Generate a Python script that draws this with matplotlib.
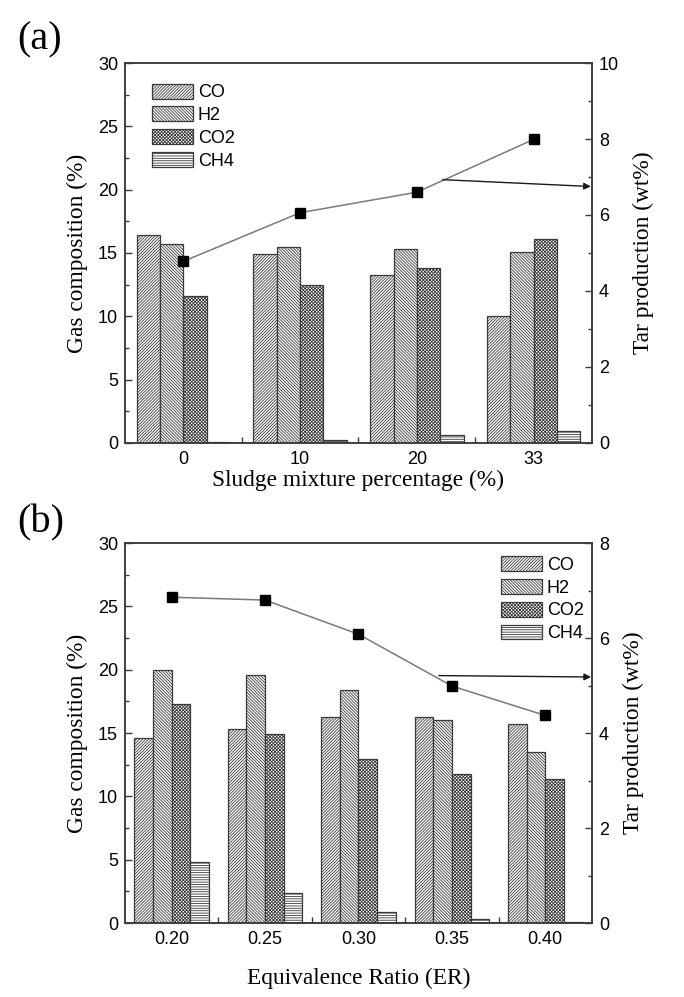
import matplotlib
matplotlib.use("Agg")
import matplotlib.pyplot as plt
import numpy as np
from matplotlib.ticker import MultipleLocator, FixedLocator

# ---- data ----
gases = ["CO", "H2", "CO2", "CH4"]

sludge_labels = ["0", "10", "20", "33"]
sludge_CO = [16.4, 14.9, 13.3, 10.0]
sludge_H2 = [15.7, 15.5, 15.3, 15.05]
sludge_CO2 = [11.6, 12.5, 13.8, 16.1]
sludge_CH4 = [0.1, 0.25, 0.6, 0.97]
sludge_tar = [4.78, 6.06, 6.6, 7.99]

er_labels = ["0.20", "0.25", "0.30", "0.35", "0.40"]
er_CO = [14.6, 15.3, 16.3, 16.3, 15.7]
er_H2 = [20.0, 19.6, 18.4, 16.05, 13.5]
er_CO2 = [17.3, 14.9, 12.95, 11.8, 11.4]
er_CH4 = [4.85, 2.35, 0.85, 0.3, 0.05]
er_tar = [6.86, 6.8, 6.08, 4.99, 4.37]

# ---- style ----
SANS = "Liberation Sans"
SERIF = "Liberation Serif"
plt.rcParams["font.family"] = SANS
plt.rcParams["hatch.linewidth"] = 0.6
plt.rcParams["hatch.color"] = "#5a5a5a"

hatches = ["/" * 11, "\\" * 11, "x" * 10, "-" * 7]
edge = "#3a3a3a"
bar_w = 0.2
tick_fs = 13
label_fs = 16.8


def panel(ax, labels, series, tar, tar_max, tar_major, legend_loc, legend_anchor,
          arrow_from, arrow_to, xlabel, xlabelpad):
    n = len(labels)
    x = np.arange(n)
    offsets = (np.arange(len(series)) - (len(series) - 1) / 2) * bar_w
    for vals, off, h, name in zip(series, offsets, hatches, gases):
        ax.bar(x + off, vals, bar_w, facecolor="white", edgecolor=edge,
               linewidth=0.9, hatch=h, label=name, zorder=2)
    ax.set_xlim(-0.5, n - 0.5)
    ax.set_ylim(0, 30)
    ax.yaxis.set_major_locator(MultipleLocator(5))
    ax.yaxis.set_minor_locator(MultipleLocator(2.5))
    ax.set_xticks(x)
    ax.set_xticklabels(labels)
    ax.xaxis.set_minor_locator(FixedLocator(x[:-1] + 0.5))
    ax.tick_params(axis="x", which="major", length=0, pad=6, labelsize=tick_fs)
    ax.tick_params(axis="x", which="minor", direction="in", length=4, width=1, color=edge)
    ax.tick_params(axis="y", which="both", direction="in", color=edge, labelsize=tick_fs, pad=5)
    ax.tick_params(axis="y", which="major", length=5, width=1)
    ax.tick_params(axis="y", which="minor", length=3, width=1)
    for s in ax.spines.values():
        s.set_color(edge)
        s.set_linewidth(1.1)
    ax.set_ylabel("Gas composition (%)", fontfamily=SERIF, fontsize=label_fs, labelpad=7)
    ax.set_xlabel(xlabel, fontfamily=SERIF, fontsize=label_fs, labelpad=xlabelpad)

    leg = ax.legend(loc=legend_loc, bbox_to_anchor=legend_anchor, frameon=False,
                    fontsize=13, handlelength=2.3, handleheight=0.9,
                    labelspacing=0.28, handletextpad=0.25, borderpad=0.2,
                    borderaxespad=0.0)
    for p in leg.get_patches():
        p.set_edgecolor(edge)

    ax2 = ax.twinx()
    ax2.plot(x, tar, color="#7a7a7a", lw=1.1, marker="s", markersize=6.5,
             markerfacecolor="black", markeredgecolor="black", zorder=3)
    ax2.set_ylim(0, tar_max)
    ax2.yaxis.set_major_locator(MultipleLocator(tar_major))
    ax2.yaxis.set_minor_locator(MultipleLocator(tar_major / 2))
    ax2.tick_params(axis="y", which="both", direction="in", color=edge, labelsize=tick_fs, pad=5)
    ax2.tick_params(axis="y", which="major", length=5, width=1)
    ax2.tick_params(axis="y", which="minor", length=3, width=1)
    for s in ax2.spines.values():
        s.set_color(edge)
        s.set_linewidth(1.1)
    ax2.set_ylabel("Tar production (wt%)", fontfamily=SERIF, fontsize=label_fs, labelpad=10)
    ax2.annotate("", xy=arrow_to, xytext=arrow_from,
                 arrowprops=dict(arrowstyle="-|>", color="#1a1a1a", lw=1.0,
                                 mutation_scale=10, shrinkA=0, shrinkB=0))
    return ax2


fig = plt.figure(figsize=(6.84, 9.97), dpi=100)
ax_a = fig.add_axes([0.1827, 0.5557, 0.6828, 0.3811])
ax_b = fig.add_axes([0.1827, 0.0742, 0.6828, 0.3811])

panel(ax_a, sludge_labels, [sludge_CO, sludge_H2, sludge_CO2, sludge_CH4], sludge_tar,
      10, 2, "upper left", (0.05, 0.955), (2.22, 6.93), (3.49, 6.75),
      "Sludge mixture percentage (%)", 1)
panel(ax_b, er_labels, [er_CO, er_H2, er_CO2, er_CH4], er_tar,
      8, 2, "upper right", (0.99, 0.975), (2.86, 5.21), (4.49, 5.18),
      "Equivalence Ratio (ER)", 14)

fig.text(0.025, 0.960, "(a)", fontfamily=SERIF, fontsize=29, va="center", ha="left")
fig.text(0.025, 0.476, "(b)", fontfamily=SERIF, fontsize=29, va="center", ha="left")

fig.savefig("out.png", dpi=100, facecolor="white")
